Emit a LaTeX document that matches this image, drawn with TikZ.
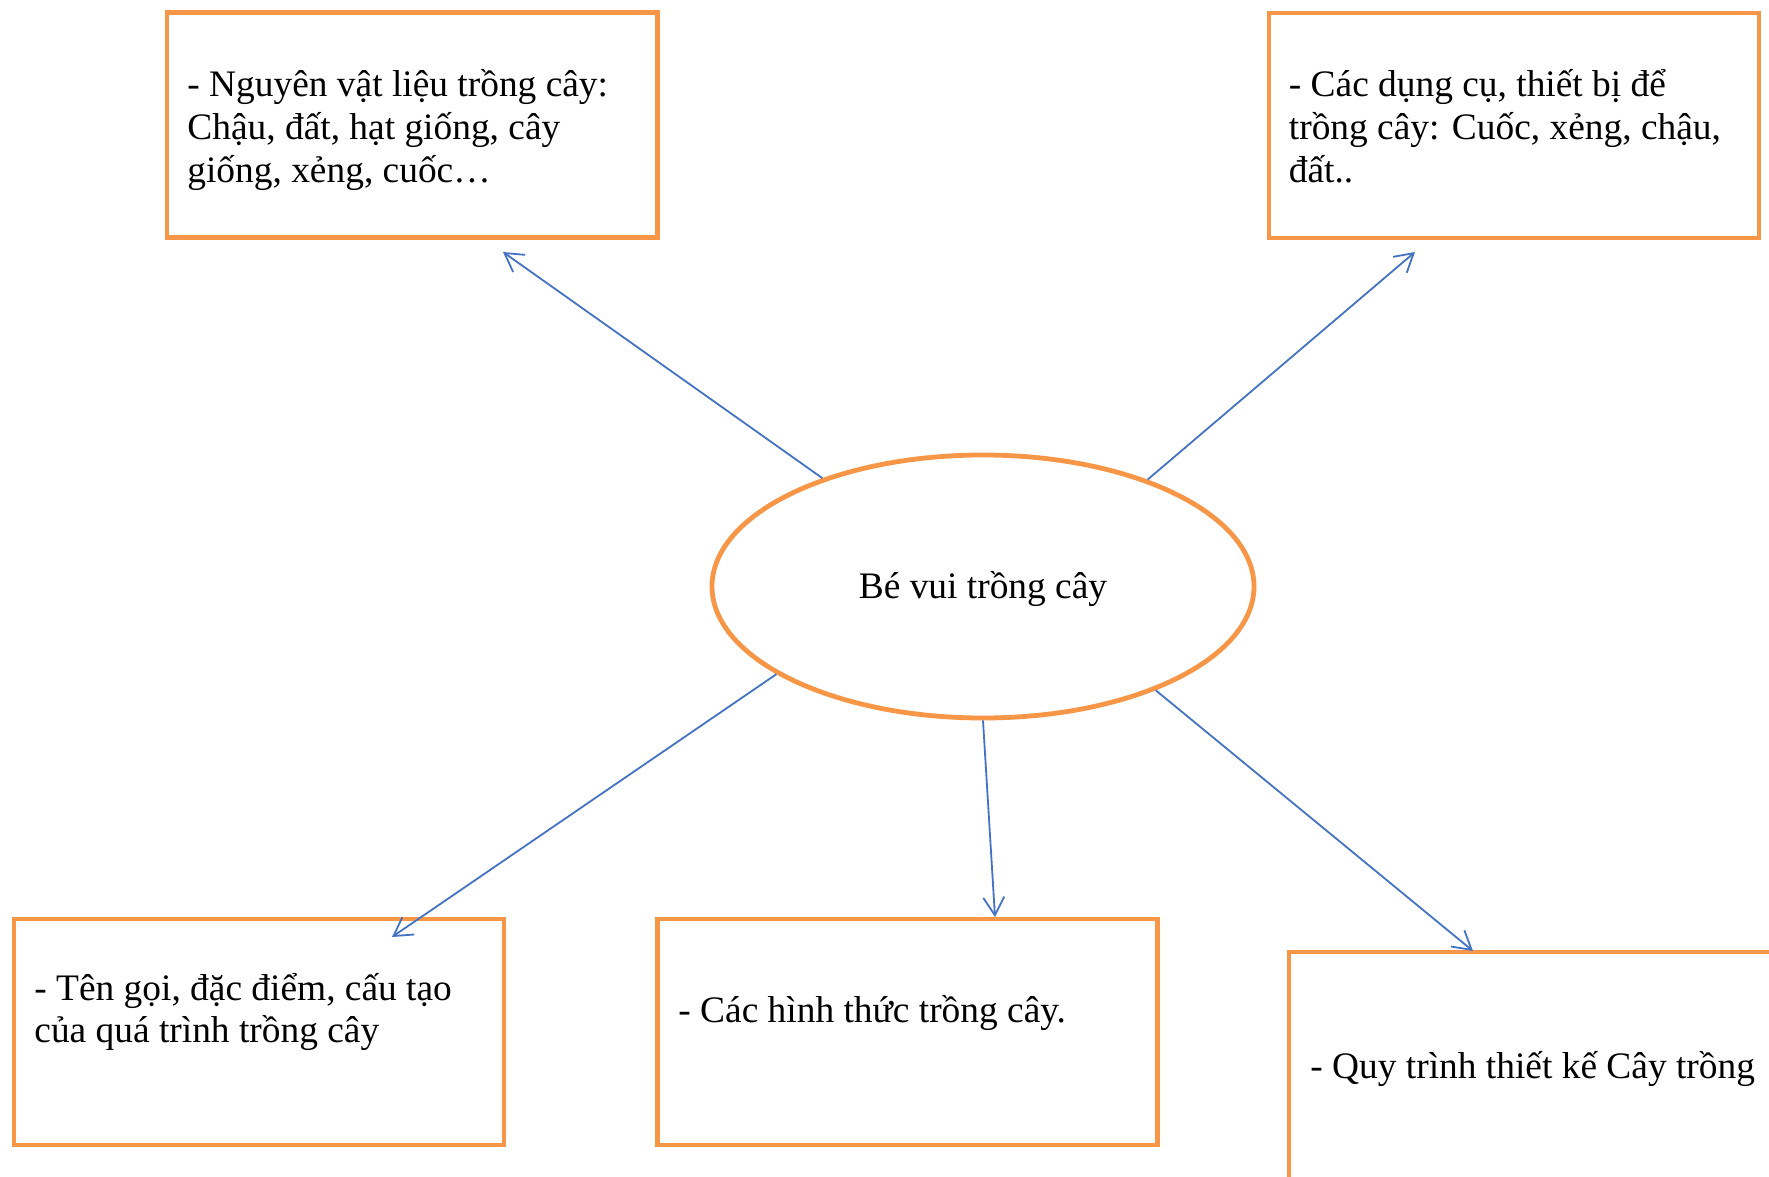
\documentclass[tikz,border=0pt]{standalone}
\usepackage{fontspec}
\setmainfont{Liberation Serif}
\usetikzlibrary{shapes.geometric,arrows.meta}
\definecolor{boxorange}{HTML}{F79646}
\definecolor{arrowblue}{HTML}{4472C4}
\begin{document}
\begin{tikzpicture}[x=0.5pt,y=-0.5pt,
  box/.style={draw=boxorange, line width=2.4pt, rectangle, inner sep=0pt, outer sep=0pt},
  lbl/.style={anchor=base west, inner sep=0pt, font=\fontsize{18.7}{21.3}\selectfont},
  link/.style={draw=arrowblue, line width=0.9pt, -{Straight Barb[length=9pt,width=10.5pt]}}]
\clip (0,0) rectangle (1769,1177);
\fill[white] (0,0) rectangle (1769,1177);

% boxes
\node[box, minimum width=245.25pt, minimum height=112.5pt] (b1) at (412.25,125) {};
\node[box, minimum width=245pt, minimum height=112.5pt] (b2) at (1514,125.5) {};
\node[box, minimum width=245pt, minimum height=113pt] (b3) at (259,1032) {};
\node[box, minimum width=250pt, minimum height=113pt] (b4) at (907.5,1032) {};
\node[box, minimum width=300pt, minimum height=150pt, anchor=north west] (b5) at (1289,952) {};

% texts
\node[lbl] (t1) at (187,97) {\parbox[t]{300pt}{- Nguyên vật liệu trồng cây:\\Chậu, đất, hạt giống, cây\\giống, xẻng, cuốc…}};
\node[lbl] (t2) at (1288.5,97) {\parbox[t]{300pt}{- Các dụng cụ, thiết bị để\\trồng cây: Cuốc, xẻng, chậu,\\đất..}};
\node[lbl] (t3) at (34,1000) {\parbox[t]{300pt}{- Tên gọi, đặc điểm, cấu tạo\\của quá trình trồng cây}};
\node[lbl] (t4) at (678,1022) {- Các hình thức trồng cây.};
\node[lbl] (t5) at (1310,1078) {- Quy trình thiết kế Cây trồng};

% centre
\node[draw=boxorange, line width=2.4pt, ellipse, minimum width=271pt, minimum height=131.5pt, inner sep=0pt] (ell) at (983,586.5) {};
\node[lbl, anchor=base] (te) at (983,598) {Bé vui trồng cây};

% arrow ends
\coordinate (a1) at (503,252);
\coordinate (a2) at (1415,252);
\coordinate (a3) at (392,937);
\coordinate (a4) at (995,917);
\coordinate (a5) at (1473,951);

\draw[link] (ell.146.6) -- (a1);
\draw[link] (ell.33.2) -- (a2);
\draw[link] (ell.203.6) -- (a3);
\draw[link] (ell.270) -- (a4);
\draw[link] (ell.329.7) -- (a5);
\end{tikzpicture}
\end{document}
